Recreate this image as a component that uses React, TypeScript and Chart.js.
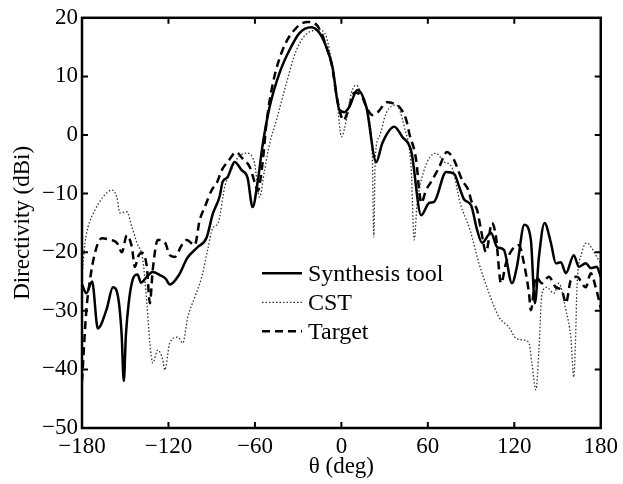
import React, { useEffect, useRef } from "react";
import { Chart, registerables } from "chart.js";

Chart.register(...registerables);

// Synthesis tool (solid)
const SYN_THETA = [-180, -177, -173, -169, -163, -158.5, -155, -152.5, -151, -149.5, -147.5, -144.7, -141.5, -139, -135, -131, -126, -122, -119, -112.5, -107, -100, -93.5, -89.3, -84.5, -82.4, -79, -74.1, -69.2, -65.1, -61.6, -58.2, -54.7, -49.8, -42.9, -36, -29.1, -20.8, -15.2, -10.4, -6.2, -1.4, 2.1, 5.5, 11.1, 17.3, 24.2, 28.4, 36.7, 42.2, 48.5, 55.4, 60.9, 64.4, 72.7, 78.2, 82, 85.2, 90, 94.2, 97.6, 103.8, 108, 112.8, 118.4, 121.8, 127, 131.5, 134.3, 137.1, 141, 145.4, 148.9, 152.3, 155.8, 161.3, 164.8, 169.6, 173.1, 177.2, 180];
const SYN_DB = [-25.5, -27, -25, -33, -29.8, -26, -27.6, -34, -42, -34, -28.5, -24.6, -23.8, -25.2, -24.2, -23.4, -23.9, -24.5, -25.5, -23.8, -21, -19.2, -17.5, -13.5, -10.5, -8, -7.2, -4.6, -6, -7.3, -12.3, -8.2, -1.8, 4.8, 10.6, 14.5, 17.4, 18.4, 17.4, 15, 11.6, 4.3, 3.9, 4.8, 7.7, 4.8, -4.6, -1.4, 1.4, -0.3, -2.8, -13.7, -11.6, -11.4, -6.3, -6.6, -9, -11, -12, -16.2, -18.4, -16.7, -19.1, -19.6, -25.3, -22.5, -15.3, -17.9, -28.7, -20.8, -15, -18.4, -21.9, -21.7, -23.6, -20.5, -22.5, -21.9, -22.7, -22.5, -24.2];

// CST (dotted)
const CST_THETA = [-180, -177.9, -175.8, -171, -165.5, -159.2, -155.8, -153.7, -148.9, -145.4, -141.9, -137.8, -135, -132.9, -130.9, -127.4, -123.9, -122.5, -119.1, -113.5, -110.1, -106.6, -101.8, -96.9, -92.8, -89.3, -85.5, -81, -75.5, -72, -65.8, -60.3, -56.8, -53.3, -49.8, -45, -38.1, -31.2, -22.2, -15.2, -10.4, -6.2, -2.8, 0, 3.5, 6.9, 10.4, 14.5, 19.4, 21.5, 22.5, 23.5, 26.3, 31.2, 38.1, 43.6, 48.5, 50.5, 52.5, 57.4, 65.7, 71.3, 76.7, 82.4, 89.3, 95.5, 102.5, 109.4, 116.3, 121.2, 126.7, 130.2, 132.2, 135, 137.1, 139.2, 142.6, 147.5, 150.9, 155.8, 159.2, 161.3, 162.7, 163.4, 166.9, 170.3, 173.8, 177.2, 180];
const CST_DB = [-24, -18.4, -15.7, -12.8, -10.6, -9.4, -10.6, -13.3, -13.1, -15.7, -18.4, -21.3, -28.7, -35.5, -38.9, -36.7, -38.4, -40.1, -35.5, -34.5, -35.5, -31.1, -27.7, -24.2, -19.6, -15.9, -15, -8.9, -5.5, -3.9, -3.1, -4.8, -10.6, -6, -1.5, 2.6, 8.9, 14.5, 17.6, 17.9, 16.7, 11.6, 5.5, -0.3, 2.6, 7.2, 8.5, 6.5, 2.6, -4, -17.4, -4, -0.3, 3.8, 5.1, 1.4, -6, -17.9, -12, -6, -3.1, -4.6, -5.5, -11.6, -16.2, -21.9, -27, -31.1, -32.8, -34.7, -35, -35.5, -38.9, -43.5, -36.7, -27, -26, -27, -25.3, -29.9, -34.5, -41.3, -33.3, -26.5, -20.1, -18.4, -19.3, -20.8, -21.9];

// Target (dashed)
const TGT_THETA = [-180, -177, -174.5, -171, -166.2, -160.6, -155.8, -152.3, -148.9, -145.4, -143.3, -141.2, -138.5, -135, -132.9, -130.9, -127.4, -122.5, -119.1, -115.6, -110.8, -107.3, -101.8, -98.3, -94.8, -90, -86.5, -83, -78, -73, -69, -63.5, -60, -58, -54.7, -52, -47.8, -40.8, -31.2, -23.5, -18.7, -13.8, -10.4, -6.9, -2.8, 1.5, 4.2, 9, 13.8, 17.3, 21.5, 24.9, 31.8, 36, 40.2, 45, 47.1, 51.9, 54, 55.4, 58.8, 63, 67.8, 73.4, 78.2, 83.8, 88.6, 90, 94.2, 96.9, 100.4, 104.5, 107.3, 110.8, 114.2, 118.4, 123.2, 126.7, 130.2, 131.5, 135, 139.2, 144, 148.9, 153, 155.8, 159.2, 163.4, 169.6, 173.1, 176.5, 180];
const TGT_DB = [-42, -30, -24.8, -20.1, -17.6, -17.9, -18.4, -20, -17.1, -19.1, -22.5, -20.8, -20.1, -22.5, -28.7, -23, -17.9, -18.3, -20.5, -20.8, -18.8, -17.9, -18.8, -14.5, -12.3, -9.4, -8.2, -6, -4.3, -2.9, -3.9, -5.5, -8.2, -9.5, -4.8, 2, 8.5, 14.5, 18.3, 19.3, 19.1, 17.4, 15, 12.3, 6, 2.5, 3.8, 7.2, 6.8, 4.8, 3.4, 3.8, 5.6, 5.4, 4.8, 2.6, 0.3, -4.3, -9.4, -11.6, -9.4, -7.7, -5.5, -2.9, -4.3, -7.7, -9.7, -11.1, -12.8, -16.2, -20, -15, -17.4, -25.3, -21.9, -19.6, -18.8, -21.9, -27, -29.9, -24.2, -25.3, -24.2, -26, -26.5, -28.7, -24.8, -24.2, -26, -23.6, -26, -29.5];

const SERIES_LABELS = ["Synthesis tool", "CST", "Target"];
const X_MIN = -180, X_MAX = 180, X_STEP = 60;
const Y_MIN = -50, Y_MAX = 20, Y_STEP = 10;

const FONT = "'Liberation Serif', 'Times New Roman', serif";
const fmt = (v: number | string) => String(v).replace("-", "\u2212");
const pts = (xs: number[], ys: number[]) => xs.map((x, i) => ({ x, y: ys[i] }));

const framePlugin = {
  id: "frame",
  afterDraw(chart: any) {
    const { ctx, chartArea: a, scales } = chart;
    ctx.save();
    ctx.strokeStyle = "#000";
    ctx.lineWidth = 2.5;
    ctx.setLineDash([]);
    ctx.strokeRect(a.left, a.top, a.right - a.left, a.bottom - a.top);
    const tl = 6;
    ctx.lineWidth = 2;
    ctx.beginPath();
    scales.x.ticks.forEach((t: any) => {
      const px = scales.x.getPixelForValue(t.value);
      if (t.value === X_MIN || t.value === X_MAX) return;
      ctx.moveTo(px, a.bottom); ctx.lineTo(px, a.bottom - tl);
      ctx.moveTo(px, a.top); ctx.lineTo(px, a.top + tl);
    });
    scales.y.ticks.forEach((t: any) => {
      const py = scales.y.getPixelForValue(t.value);
      if (t.value === Y_MIN || t.value === Y_MAX) return;
      ctx.moveTo(a.left, py); ctx.lineTo(a.left + tl, py);
      ctx.moveTo(a.right, py); ctx.lineTo(a.right - tl, py);
    });
    ctx.stroke();
    ctx.restore();
  },
};

const legendPlugin = {
  id: "inlineLegend",
  afterDatasetsDraw(chart: any) {
    const { ctx, chartArea: a } = chart;
    const x0 = a.left + 180;
    const y0 = a.top + 255.5;
    const dy = 29;
    ctx.save();
    chart.data.datasets.forEach((ds: any, i: number) => {
      const y = y0 + i * dy;
      ctx.beginPath();
      ctx.setLineDash(ds.borderDash || []);
      ctx.lineWidth = ds.borderWidth;
      ctx.strokeStyle = ds.borderColor;
      ctx.moveTo(x0, y);
      ctx.lineTo(x0 + 40, y);
      ctx.stroke();
      ctx.setLineDash([]);
      ctx.fillStyle = "#000";
      ctx.font = `24px ${FONT}`;
      ctx.textBaseline = "middle";
      ctx.textAlign = "left";
      ctx.fillText(ds.label, x0 + 46, y + 1);
    });
    ctx.restore();
  },
};

export default function App() {
  const ref = useRef<HTMLCanvasElement>(null);
  useEffect(() => {
    if (!ref.current) return;
    const chart = new Chart(ref.current, {
      type: "line",
      data: {
        datasets: [
          {
            label: SERIES_LABELS[0],
            data: pts(SYN_THETA, SYN_DB),
            borderColor: "#000",
            borderWidth: 2.5,
            pointRadius: 0,
            cubicInterpolationMode: "monotone",
          },
          {
            label: SERIES_LABELS[1],
            data: pts(CST_THETA, CST_DB),
            borderColor: "#333",
            borderWidth: 1.3,
            borderDash: [1.5, 2],
            pointRadius: 0,
            cubicInterpolationMode: "monotone",
          },
          {
            label: SERIES_LABELS[2],
            data: pts(TGT_THETA, TGT_DB),
            borderColor: "#000",
            borderWidth: 2.5,
            borderDash: [8, 5],
            pointRadius: 0,
            cubicInterpolationMode: "monotone",
          },
        ],
      },
      options: {
        animation: false,
        responsive: false,
        layout: { padding: { top: 17, right: 21, left: 0, bottom: 0 } },
        plugins: { legend: { display: false }, tooltip: { enabled: false } },
        scales: {
          x: {
            type: "linear",
            min: X_MIN,
            max: X_MAX,
            grid: { display: false, drawTicks: false },
            border: { display: false },
            ticks: {
              stepSize: X_STEP,
              color: "#000",
              font: { family: FONT, size: 23 },
              padding: 5,
              maxRotation: 0,
              callback: (v: any) => fmt(v),
            },
            title: {
              display: true,
              text: "\u03b8 (deg)",
              color: "#000",
              font: { family: FONT, size: 23 },
              padding: { top: 0, bottom: 3 },
            },
            afterFit: (s: any) => { s.height = 56; },
          },
          y: {
            type: "linear",
            min: Y_MIN,
            max: Y_MAX,
            grid: { display: false, drawTicks: false },
            border: { display: false },
            ticks: {
              stepSize: Y_STEP,
              color: "#000",
              font: { family: FONT, size: 23 },
              padding: 4,
              callback: (v: any) => fmt(v),
            },
            title: {
              display: true,
              text: "Directivity (dBi)",
              color: "#000",
              font: { family: FONT, size: 23 },
              padding: { top: 9, bottom: 0 },
            },
            afterFit: (s: any) => { s.width = 82; },
          },
        },
      },
      plugins: [framePlugin, legendPlugin],
    });
    return () => chart.destroy();
  }, []);
  return (
    <div style={{ position: "fixed", left: 0, top: 0, width: 623, height: 484, background: "#fff" }}>
      <canvas ref={ref} width={623} height={484} />
    </div>
  );
}
